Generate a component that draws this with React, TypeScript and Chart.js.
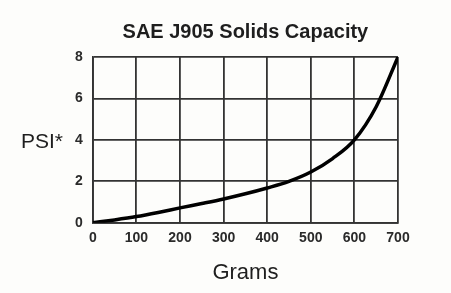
import React, { useEffect, useRef } from "react";
import { Chart, registerables } from "chart.js";

Chart.register(...registerables);

const grams = [0, 50, 100, 150, 200, 250, 300, 350, 400, 450, 500, 550, 600, 650, 700];
const psi = [0, 0.14, 0.3, 0.5, 0.72, 0.93, 1.15, 1.4, 1.68, 2.0, 2.45, 3.1, 4.0, 5.6, 8.0];
const xTicks = [0, 100, 200, 300, 400, 500, 600, 700];
const yTicks = [0, 2, 4, 6, 8];
const titleText = "SAE J905 Solids Capacity";
const yLabel = "PSI*";
const xLabel = "Grams";

const FONT = "'Liberation Sans', Arial, Helvetica, sans-serif";

const textPlugin = {
  id: "extraText",
  afterDraw(chart: any) {
    const { ctx, chartArea } = chart;
    ctx.save();
    ctx.fillStyle = "#1e1e1e";
    ctx.font = `bold 20px ${FONT}`;
    ctx.textAlign = "center";
    ctx.textBaseline = "middle";
    ctx.fillText(titleText, (chartArea.left + chartArea.right) / 2, 32);
    ctx.font = `21px ${FONT}`;
    ctx.textAlign = "left";
    ctx.fillText(yLabel, 21, 142);
    ctx.restore();
  },
};

export default function App() {
  const ref = useRef<HTMLCanvasElement>(null);
  useEffect(() => {
    if (!ref.current) return;
    const chart = new Chart(ref.current, {
      type: "line",
      data: {
        datasets: [
          {
            data: grams.map((g, i) => ({ x: g, y: psi[i] })),
            borderColor: "#000000",
            borderWidth: 3.5,
            pointRadius: 0,
            tension: 0.4,
            cubicInterpolationMode: "monotone",
            fill: false,
          },
        ],
      },
      options: {
        animation: false,
        responsive: false,
        maintainAspectRatio: false,
        layout: { padding: { left: 65, right: 53, top: 57, bottom: 7 } },
        plugins: { legend: { display: false }, tooltip: { enabled: false }, title: { display: false } },
        scales: {
          x: {
            type: "linear",
            min: 0,
            max: 700,
            afterBuildTicks: (axis: any) => {
              axis.ticks = xTicks.map((v) => ({ value: v }));
            },
            grid: { color: "#333333", lineWidth: 1.8, drawTicks: false },
            border: { color: "#333333", width: 1.8 },
            ticks: { color: "#2a2a2a", font: { family: FONT, size: 14, weight: "bold" }, padding: 7, maxRotation: 0 },
            title: { display: true, text: xLabel, color: "#1e1e1e", font: { family: FONT, size: 22 }, padding: { top: 6, bottom: 0 } },
          },
          y: {
            type: "linear",
            min: 0,
            max: 8,
            afterBuildTicks: (axis: any) => {
              axis.ticks = yTicks.map((v) => ({ value: v }));
            },
            grid: { color: "#333333", lineWidth: 1.8, drawTicks: false },
            border: { color: "#333333", width: 1.8 },
            ticks: { color: "#2a2a2a", font: { family: FONT, size: 14, weight: "bold" }, padding: 10 },
          },
        },
      },
      plugins: [textPlugin],
    });
    return () => chart.destroy();
  }, []);
  return (
    <div style={{ position: "fixed", left: 0, top: 0, width: 451, height: 293, background: "#fdfdfb" }}>
      <canvas ref={ref} width={451} height={293} style={{ width: 451, height: 293 }} />
    </div>
  );
}
